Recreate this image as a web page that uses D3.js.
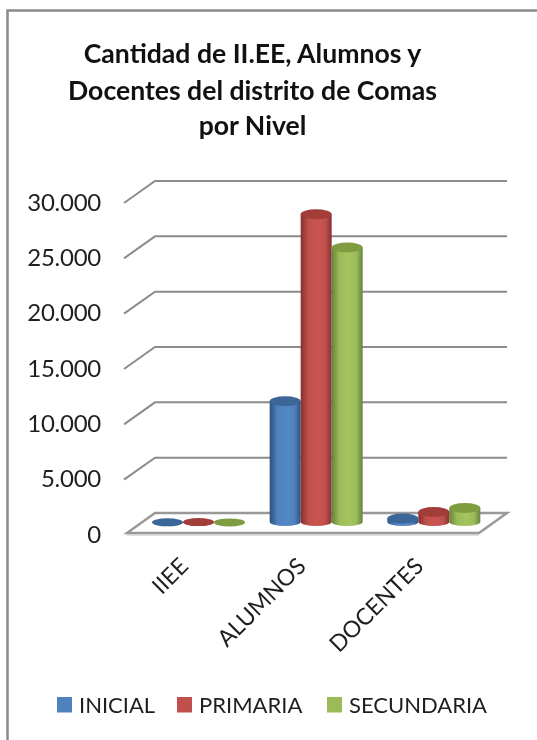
<!DOCTYPE html>
<html><head><meta charset="utf-8">
<script src="https://cdn.jsdelivr.net/npm/d3@7"></script>
<style>html,body{margin:0;padding:0;background:#fff}svg{display:block;filter:blur(.45px)}</style>
</head><body><div id="c"></div>
<script>
const titleLines=["Cantidad de II.EE, Alumnos y","Docentes del distrito de Comas","por Nivel"];
const categories=["IIEE","ALUMNOS","DOCENTES"];
const seriesNames=["INICIAL","PRIMARIA","SECUNDARIA"];
const inicial=[60,11000,400];
const primaria=[80,27900,1000];
const secundaria=[50,24900,1350];
const tickValues=[0,5000,10000,15000,20000,25000,30000];
const seriesValues=[inicial,primaria,secundaria];
const colors=["#4f81bd","#c0504d","#9bbb59"];
const darks=["#2c5280","#843130","#67823a"];
const tops=["#3a6698","#a23d3a","#7f9c40"];

const W=537,H=740;
const svg=d3.select("#c").append("svg").attr("width",W).attr("height",H);
const font="Lato, Carlito, sans-serif", ink="#1f1f1f", grid="#8c8c8c";
const defs=svg.append("defs");
colors.forEach((c,i)=>{
  const g=defs.append("linearGradient").attr("id","g"+i);
  [[0,darks[i]],[.25,c],[.55,d3.color(c).brighter(.15)],[.8,c],[1,darks[i]]]
   .forEach(([o,k])=>g.append("stop").attr("offset",o).attr("stop-color",k));
});

// frame
svg.append("path").attr("d","M7.5,740V10.5H537").attr("fill","none").attr("stroke","#8a8a8a").attr("stroke-width",2.5);

// title
svg.append("g").selectAll("text").data(titleLines).join("text")
 .attr("x",252.5).attr("y",(d,i)=>[63,100,135][i]).attr("text-anchor","middle")
 .attr("font-family",font).attr("font-weight",700).attr("font-size",26.6).attr("fill","#111").text(d=>d);

// scales
const dx=28,dy=20;
const y=d3.scaleLinear().domain([0,30000]).range([533,201]);
const x0=d3.scaleBand().domain(categories).range([127,480]);
const x1=d3.scaleBand().domain(seriesNames).range([11,104]);

// grid walls
const g=svg.append("g").attr("fill","none").attr("stroke",grid).attr("stroke-width",2);
tickValues.filter(v=>v>0).forEach(v=>{
  g.append("path").attr("d",`M${x0.range()[0]-3},${y(v)+2}L${x0.range()[0]+dx},${y(v)-dy}H${x0.range()[1]+dx-1}`);
});
// floor
g.append("path").attr("fill","#fff").attr("stroke-width",2.5).attr("stroke","#999")
 .attr("d",`M${127},${y(0)}L${127+dx},${y(0)-dy}H${480+dx-1}L${480-1},${y(0)}Z`);
g.append("path").attr("stroke","#bdbdbd").attr("stroke-width",1).attr("d",`M127,${y(0)+2}H479`);

// cylinders
const ry=5, shift=dx/2, lift=dy/2;
const bars=svg.append("g");
seriesNames.forEach((s,si)=>{
  categories.forEach((c,ci)=>{
    const v=seriesValues[si][ci];
    const xl=x0(c)+x1(s)+shift, w=x1.bandwidth(), rx=w/2;
    const yb=y(0)-lift, yt=y(v)-lift;
    bars.append("path").attr("fill",`url(#g${si})`)
      .attr("d",`M${xl},${yt}V${yb-1}A${rx},${ry-1} 0 0 0 ${xl+w},${yb-1}V${yt}Z`);
    bars.append("ellipse").attr("cx",xl+rx).attr("cy",yt).attr("rx",rx).attr("ry",ci===0?ry-1:ry).attr("fill",tops[si]);
  });
});

// y labels
const fmt=v=>d3.format(",")(v).replace(/,/g,".");
svg.append("g").selectAll("text").data(tickValues).join("text")
 .attr("x",101).attr("y",d=>y(d)+9.5).attr("text-anchor","end")
 .attr("font-family",font).attr("font-size",24).attr("letter-spacing",-0.25).attr("fill",ink).text(fmt);

// category labels
svg.append("g").selectAll("text").data(categories).join("text")
 .attr("transform",d=>`translate(${x0(d)+x0.bandwidth()/2-8},${556}) rotate(-45)`)
 .attr("text-anchor","end").attr("dy",".72em")
 .attr("font-family",font).attr("font-size",23).attr("fill",ink).text(d=>d);

// legend
const lx=[57,177,327];
const lg=svg.append("g").selectAll("g").data(seriesNames).join("g")
 .attr("transform",(d,i)=>`translate(${lx[i]},697)`);
lg.append("rect").attr("width",15).attr("height",15.5).attr("fill",(d,i)=>colors[i]);
lg.append("text").attr("x",22).attr("y",15.5).attr("font-family",font).attr("font-size",22).attr("fill",ink).text(d=>d);
</script></body></html>
